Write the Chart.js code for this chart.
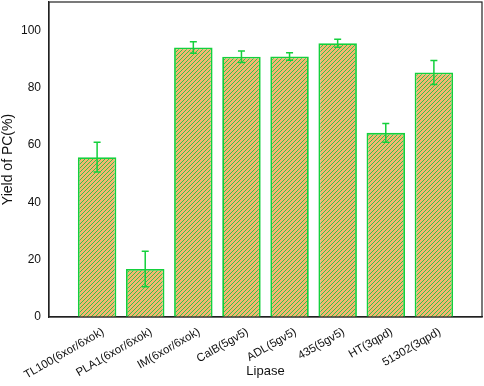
<!DOCTYPE html>
<html><head><meta charset="utf-8">
<script src="https://cdn.jsdelivr.net/npm/chart.js@4"></script>
<style>html,body{margin:0;padding:0;background:#fff}#wrap{width:484px;height:386px}</style>
</head><body><div id="wrap"><canvas id="c"></canvas></div>
<script>
const categories = ['TL100(6xor/6xok)','PLA1(6xor/6xok)','IM(6xor/6xok)','CalB(5gv5)','ADL(5gv5)','435(5gv5)','HT(3qpd)','51302(3qpd)'];
const yieldValues = [55.8, 16.8, 94.1, 90.9, 91.0, 95.6, 64.3, 85.4];
const yieldErrors = [5.2, 6.2, 2.0, 2.0, 1.3, 1.4, 3.3, 4.2];
const yTicks = [0, 20, 40, 60, 80, 100];

const GREEN = '#14d03c';
function hatch(){
  const s = 4, p = document.createElement('canvas');
  p.width = s; p.height = s;
  const g = p.getContext('2d');
  g.fillStyle = '#f4b670'; g.fillRect(0,0,s,s);
  g.strokeStyle = '#35c44a'; g.lineWidth = 1;
  g.beginPath();
  g.moveTo(0,s); g.lineTo(s,0);
  g.moveTo(-1,1); g.lineTo(1,-1);
  g.moveTo(s-1,s+1); g.lineTo(s+1,s-1);
  g.stroke();
  return g.createPattern(p,'repeat');
}

const errPlugin = {
  id:'err',
  afterDatasetsDraw(chart){
    const ctx = chart.ctx, y = chart.scales.y;
    const meta = chart.getDatasetMeta(0);
    ctx.save();
    ctx.strokeStyle = GREEN; ctx.lineWidth = 1.5;
    meta.data.forEach((bar,i)=>{
      const v = yieldValues[i], e = yieldErrors[i];
      const x = bar.x, y1 = y.getPixelForValue(v+e), y2 = y.getPixelForValue(v-e);
      ctx.beginPath();
      ctx.moveTo(x,y1); ctx.lineTo(x,y2);
      ctx.moveTo(x-3.5,y1); ctx.lineTo(x+3.5,y1);
      ctx.moveTo(x-3.5,y2); ctx.lineTo(x+3.5,y2);
      ctx.stroke();
    });
    ctx.restore();
  },
  afterDraw(chart){
    const a = chart.chartArea, ctx = chart.ctx;
    ctx.save(); ctx.strokeStyle = '#222'; ctx.lineWidth = 1.2;
    ctx.strokeRect(a.left, a.top, a.right-a.left, a.bottom-a.top);
    ctx.restore();
  }
};

const FONT = 'Liberation Sans, Arial';
new Chart(document.getElementById('c'), {
  type:'bar',
  data:{ datasets:[{
    data: categories.map((c,i)=>({x:i+1, y:yieldValues[i]})),
    backgroundColor: hatch(),
    borderColor: GREEN, borderWidth: 1.8,
    barPercentage: 1, categoryPercentage: 0.8
  }]},
  options:{
    responsive:true, maintainAspectRatio:false, animation:false,
    layout:{padding:{top:2,right:2,left:0,bottom:0}},
    plugins:{legend:{display:false}, tooltip:{enabled:false}},
    scales:{
      x:{ type:'linear', min:0, max:9, offset:false,
        grid:{display:false, drawTicks:false},
        border:{color:'#222', width:1.2},
        afterBuildTicks(s){ s.ticks = categories.map((c,i)=>({value:i+1})); },
        afterFit(s){ s.height = 69; s.paddingLeft = 0; s.paddingRight = 0; },
        ticks:{ autoSkip:false, minRotation:30, maxRotation:30, padding:8, labelOffset:6,
          color:'#111', font:{family:FONT, size:11.5},
          callback:(v)=>categories[v-1] ?? '' },
        title:{display:true, text:'Lipase', color:'#111', font:{family:FONT, size:13}, padding:{top:0,bottom:7}}
      },
      y:{ min:0, max:110,
        afterBuildTicks(s){ s.ticks = yTicks.map(v=>({value:v})); },
        afterFit(s){ s.width = 49; s.paddingTop = 0; s.paddingBottom = 0; },
        grid:{display:false, drawOnChartArea:false, drawTicks:true, tickLength:5, tickColor:'#222', tickWidth:1.2},
        border:{color:'#222', width:1.2},
        ticks:{ color:'#111', padding:3, font:{family:FONT, size:12} },
        title:{display:true, text:'Yield of PC(%)', color:'#111', font:{family:FONT, size:14}, padding:{top:0,bottom:4}}
      }
    }
  },
  plugins:[errPlugin]
});
</script></body></html>
